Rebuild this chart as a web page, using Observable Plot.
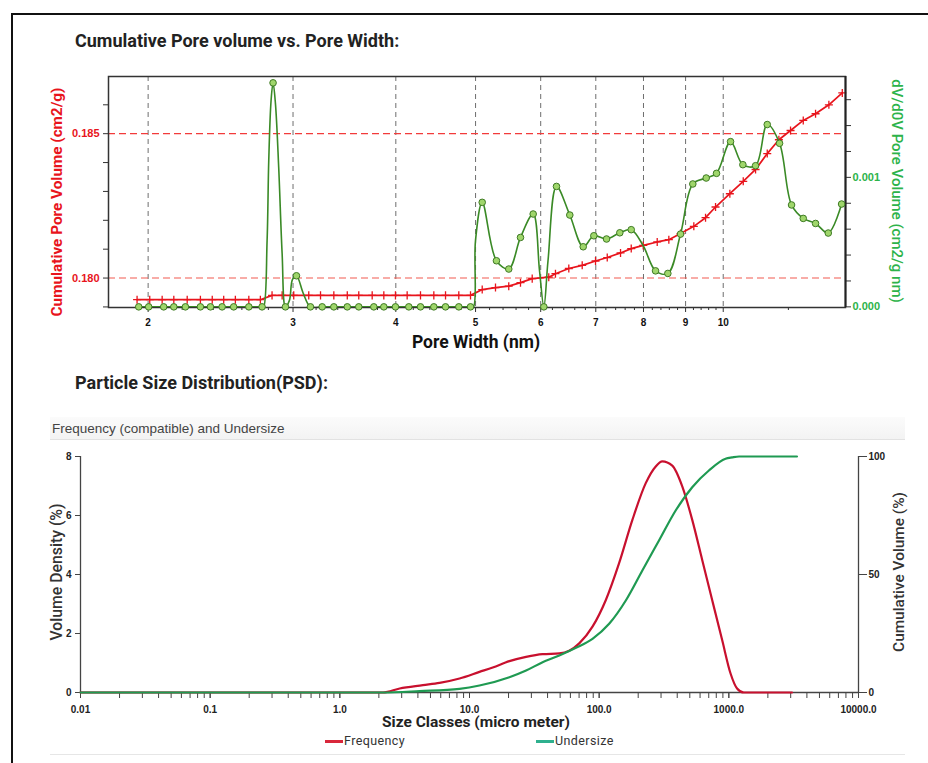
<!DOCTYPE html>
<html>
<head>
<meta charset="utf-8">
<script src="https://cdn.jsdelivr.net/npm/d3@7"></script>
<script src="https://cdn.jsdelivr.net/npm/@observablehq/plot@0.6"></script>
<style>
  html, body { margin: 0; padding: 0; background: #fff; }
  body { width: 928px; height: 763px; position: relative; overflow: hidden; font-family: Roboto, "Liberation Sans", sans-serif; }
  .abs { position: absolute; }
  .layer { position: absolute; left: 0; }
  .layer svg { display: block; background: transparent; max-width: none; }
  .border { position: absolute; left: 11px; top: 13px; width: 940px; height: 780px; border-left: 2px solid #111; border-top: 2px solid #111; }
  .title { position: absolute; left: 75px; font: bold 18px Roboto, sans-serif; color: #222; white-space: nowrap; }
  .rot { position: absolute; white-space: nowrap; transform: translate(-50%, -50%) rotate(-90deg); }
  .rotcw { position: absolute; white-space: nowrap; transform: translate(-50%, -50%) rotate(90deg); }
  .center { position: absolute; white-space: nowrap; transform: translate(-50%, -50%); }
  .header { position: absolute; left: 50px; top: 417px; width: 855px; height: 23px; background: linear-gradient(#fbfbfb, #f3f3f3); border-bottom: 1px solid #e2e2e2; font: 13.5px "Liberation Sans", Arial, sans-serif; color: #444; line-height: 23px; padding-left: 2px; box-sizing: border-box; }
  .legend { position: absolute; top: 733px; font: 12.5px Roboto, sans-serif; color: #333; letter-spacing: 0.4px; white-space: nowrap; }
  .legend span.sw { display: inline-block; width: 18px; height: 3px; vertical-align: middle; margin-right: 1px; }
</style>
</head>
<body>
<div class="border"></div>
<div class="title" style="top:30px">Cumulative Pore volume vs. Pore Width:</div>
<div class="title" style="top:372px">Particle Size Distribution(PSD):</div>

<div id="p1a" class="layer" style="top:0"></div>
<div id="p1b" class="layer" style="top:0"></div>

<div class="rot" style="left:57px; top:202px; font: bold 15.3px Roboto, sans-serif; color:#e8141c;">Cumulative Pore Volume (cm2/g)</div>
<div class="rotcw" style="left:897px; top:191px; font: 500 15px Roboto, sans-serif; color:#2db34a;">dV/d0V Pore Volume (cm2/g nm)</div>
<div class="center" style="left:476px; top:342px; font: bold 17.5px Roboto, sans-serif; color:#111;">Pore Width (nm)</div>

<div class="header">Frequency (compatible) and Undersize</div>

<div id="p2a" class="layer" style="top:400px"></div>
<div id="p2b" class="layer" style="top:400px"></div>

<div class="rot" style="left:56px; top:572px; font: 500 15.8px Roboto, sans-serif; color:#333;">Volume Density (%)</div>
<div class="rot" style="left:899px; top:572px; font: 500 15.4px Roboto, sans-serif; color:#333;">Cumulative Volume (%)</div>
<div class="center" style="left:476px; top:722px; font: bold 15.5px Roboto, sans-serif; color:#222;">Size Classes (micro meter)</div>

<div class="legend" style="left:325px"><span class="sw" style="background:#d9273b"></span>Frequency</div>
<div class="legend" style="left:536px"><span class="sw" style="background:#2fb08e"></span>Undersize</div>
<div class="abs" style="left:50px; top:754px; width:855px; height:1px; background:#e6e6e6"></div>

<script>
// ---------- Top chart: cumulative pore volume (left axis) ----------
const cumWidth = [1.939, 2.009, 2.080, 2.149, 2.231, 2.315, 2.393, 2.471, 2.553, 2.651, 2.738,
  2.829, 2.910, 3.006, 3.135, 3.240, 3.363, 3.492, 3.606, 3.744, 3.868, 3.996, 4.129, 4.286, 4.449, 4.597, 4.771, 4.930,
  5.094, 5.287, 5.487, 5.670, 5.859, 6.137, 6.253, 6.491, 6.739, 6.995, 7.228, 7.502, 7.730, 7.994, 8.313, 8.588, 8.874,
  9.210, 9.517, 9.787, 10.187, 10.576, 10.947, 11.311, 11.685, 12.073, 12.510, 12.948, 13.440, 13.954];
const cumVolume = [0.17925, 0.17925, 0.17925, 0.17925, 0.17925, 0.17925, 0.17925, 0.17925, 0.17925, 0.17925, 0.17925,
  0.17940, 0.17940, 0.17940, 0.17940, 0.17940, 0.17940, 0.17940, 0.17940, 0.17940, 0.17940, 0.17940, 0.17940, 0.17940, 0.17940, 0.17940, 0.17940, 0.17940,
  0.17960, 0.17967, 0.17972, 0.17984, 0.17998, 0.18003, 0.18015, 0.18033, 0.18044, 0.18059, 0.18071, 0.18087, 0.18102, 0.18113, 0.18125, 0.18133, 0.18154,
  0.18179, 0.18209, 0.18246, 0.18292, 0.18335, 0.18376, 0.18431, 0.18479, 0.18511, 0.18546, 0.18569, 0.18600, 0.18641];

// ---------- Top chart: dV/dD (right axis) ----------
const dvWidth = [1.948, 2.003, 2.089, 2.149, 2.220, 2.315, 2.381, 2.460, 2.541, 2.651, 2.751,
  2.763, 2.790, 2.803, 2.821, 2.837, 2.856, 2.882, 2.910, 2.937, 2.970, 2.995, 3.029, 3.089, 3.150,
  3.255, 3.363, 3.492, 3.606, 3.761, 3.868, 3.996, 4.148, 4.286, 4.449, 4.597, 4.771, 4.930,
  4.971, 4.999, 5.094, 5.301, 5.487, 5.670, 5.875, 5.980, 6.053, 6.124, 6.271, 6.509, 6.758, 6.962,
  7.214, 7.487, 7.730, 7.994, 8.274, 8.564, 8.874, 9.184, 9.535, 9.814, 10.207, 10.565, 10.947,
  11.311, 11.707, 12.107, 12.510, 12.948, 13.417, 13.927];
const dvValue = [0, 0, 0, 0, 0, 0, 0, 0, 0, 0, 0,
  0, 0.00051, 0.00113, 0.00159, 0.00173, 0.00157, 0.00108, 0.00041, 0, 0.00005, 0.00021, 0.00024, 0.00010, 0,
  0, 0, 0, 0, 0, 0, 0, 0, 0, 0, 0, 0, 0,
  0, 0.00051, 0.000807, 0.000356, 0.000292, 0.000536, 0.000717, 0.00028, 0, 0.000356, 0.000930, 0.000709, 0.000464, 0.000549,
  0.000524, 0.000572, 0.000596, 0.000472, 0.000278, 0.000258, 0.000562, 0.000949, 0.000995, 0.001031, 0.001276, 0.001098, 0.001090,
  0.001408, 0.001263, 0.000787, 0.000683, 0.000644, 0.000570, 0.000794];
const dvMarker = [1, 1, 1, 1, 1, 1, 1, 1, 1, 1, 1,
  0, 0, 0, 0, 1, 0, 0, 0, 1, 0, 0, 1, 0, 1,
  1, 1, 1, 1, 1, 1, 1, 1, 1, 1, 1, 1, 1,
  0, 0, 1, 1, 1, 1, 1, 0, 1, 0, 1, 1, 1, 1,
  1, 1, 1, 0, 1, 1, 1, 1, 1, 1, 1, 1, 1,
  1, 1, 1, 1, 1, 1, 1];

const poreTicks = [2, 3, 4, 5, 6, 7, 8, 9, 10];
const poreMinorTicks = [2.2, 2.4, 2.6, 2.8, 3.2, 3.4, 3.6, 3.8, 4.2, 4.4, 4.6, 4.8, 5.2, 5.4, 5.6, 5.8,
  6.2, 6.4, 6.6, 6.8, 7.2, 7.4, 7.6, 7.8, 8.2, 8.4, 8.6, 8.8, 9.2, 9.4, 9.6, 9.8, 12];
const cumTicks = [0.179, 0.180, 0.181, 0.182, 0.183, 0.184, 0.185, 0.186];
const cumTickLabels = ["", "0.180", "", "", "", "", "0.185", ""];
const dvTicks = [0, 0.0002, 0.0004, 0.0006, 0.0008, 0.001, 0.0012, 0.0014, 0.0016];
const dvTickLabels = ["0.000", "", "", "", "", "0.001", "", "", ""];
const poreDomain = [1.79, 14.08];

// ---------- Bottom chart: PSD ----------
const freqSize = [0.01, 0.1, 1, 2.153, 2.894, 4.373, 5.878, 8.38, 11.94, 15.11, 20.31, 27.31, 36.63, 49.24, 58.76,
  70.20, 88.83, 112.6, 142.5, 180.4, 228.7, 273.1, 306.9, 366.3, 437.3, 522.1, 623.3, 743.8, 888.3, 1031, 1158, 1305, 3069];
const frequency = [0, 0, 0, 0, 0.136, 0.248, 0.326, 0.475, 0.70, 0.849, 1.063, 1.209, 1.301, 1.324, 1.412,
  1.664, 2.231, 3.137, 4.383, 5.851, 7.097, 7.664, 7.834, 7.688, 6.985, 5.851, 4.493, 3.135, 1.776, 0.645, 0.136, 0, 0];
const underSize = [0.01, 0.1, 1, 2.153, 4.125, 8.38, 11.94, 20.31, 27.31, 36.63, 49.24, 66.21, 88.83, 119.4, 160.5,
  215.3, 289.4, 389.0, 522.1, 702.0, 943.2, 1060, 1200, 3353];
const undersize = [0, 0, 0, 0, 0.6, 1.57, 2.97, 6.48, 9.32, 12.84, 15.68, 18.94, 22.75, 29.11, 38.98,
  51.69, 64.41, 77.12, 87.0, 94.07, 99.03, 99.6, 100, 100];

const sizeTicks = [0.01, 0.1, 1, 10, 100, 1000, 10000];
const sizeTickLabels = ["0.01", "0.1", "1.0", "10.0", "100.0", "1000.0", "10000.0"];
const sizeMinorTicks = [];
[0.01, 0.1, 1, 10, 100, 1000].forEach(d => { for (let k = 1; k <= 9; k++) sizeMinorTicks.push(+(d * k).toPrecision(3)); });
sizeMinorTicks.push(10000);
const densTicks = [0, 2, 4, 6, 8];
const cumPctTicks = [0, 50, 100];

// tables built from the arrays
const cumData = cumWidth.map((w, i) => ({w, v: cumVolume[i]}));
const dvData = dvWidth.map((w, i) => ({w, v: dvValue[i], m: dvMarker[i]}));
const freqData = freqSize.map((s, i) => ({s, f: frequency[i]}));
const underData = underSize.map((s, i) => ({s, c: undersize[i]}));

const tickFont = {fontFamily: "'Liberation Sans', Arial, sans-serif", fontSize: 10, fontWeight: "bold"};
const topDims = {width: 928, height: 355, marginTop: 76, marginBottom: 48, marginLeft: 108, marginRight: 83};
const botDims = {width: 928, height: 363, marginTop: 56, marginBottom: 71, marginLeft: 80, marginRight: 70};
const svgStyle = {background: "transparent", overflow: "visible", fontFamily: "'Liberation Sans', Arial, sans-serif"};

const p1a = Plot.plot({
  ...topDims, style: svgStyle,
  x: {type: "log", domain: poreDomain},
  y: {domain: [0.17898, 0.18698]},
  marks: [
    Plot.ruleX(poreTicks, {stroke: "#4a4a4a", strokeDasharray: "5,4", strokeOpacity: 0.8}),
    Plot.ruleY([0.185], {stroke: "#f23b3b", strokeDasharray: "7,4", strokeWidth: 1.2}),
    Plot.ruleY([0.180], {stroke: "#f25a50", strokeDasharray: "7,4", strokeWidth: 1.1}),
    Plot.axisX(poreMinorTicks, {tickSize: 3, tickFormat: () => "", stroke: "#333", label: null}),
    Plot.axisX(poreTicks, {tickSize: 5, tickPadding: 6, tickFormat: d => String(d), stroke: "#333", fill: "#111", label: null, ...tickFont}),
    Plot.axisY(cumTicks, {anchor: "left", tickSize: 5, tickPadding: 4, tickFormat: d => cumTickLabels[cumTicks.indexOf(d)], stroke: "#333", fill: "#e8141c", label: null, ...tickFont, fontSize: 11}),
    Plot.frame({stroke: "#333", strokeWidth: 1.5}),
    Plot.line(cumData, {x: "w", y: "v", stroke: "#e8141c", strokeWidth: 1.7}),
    Plot.dot(cumData, {x: "w", y: "v", symbol: "plus", r: 2.7, stroke: "#e8141c", strokeWidth: 1.3, fill: "none"})
  ]
});
document.getElementById("p1a").append(p1a);

const p1b = Plot.plot({
  ...topDims, style: svgStyle,
  x: {type: "log", domain: poreDomain, axis: null},
  y: {domain: [-0.000005, 0.001779], axis: null},
  marks: [
    Plot.axisY(dvTicks, {anchor: "right", tickSize: 5, tickPadding: 2, tickFormat: d => dvTickLabels[dvTicks.indexOf(d)], stroke: "#333", fill: "#2db34a", label: null, ...tickFont, fontSize: 11}),
    Plot.ruleX([poreDomain[1]], {stroke: "#222", strokeWidth: 2}),
    Plot.line(dvData, {x: "w", y: "v", curve: "catmull-rom", stroke: "#3a8a26", strokeWidth: 1.6, clip: true}),
    Plot.dot(dvData.filter(d => d.m), {x: "w", y: "v", r: 3.3, fill: "#9fd66b", stroke: "#3f7a25", strokeWidth: 1})
  ]
});
document.getElementById("p1b").append(p1b);

const p2a = Plot.plot({
  ...botDims, style: svgStyle,
  x: {type: "log", domain: [0.01, 10000]},
  y: {domain: [0, 8]},
  marks: [
    Plot.axisX(sizeMinorTicks, {tickSize: 6, tickFormat: () => "", stroke: "#444", label: null}),
    Plot.axisX(sizeTicks, {tickSize: 6, tickPadding: 7, tickFormat: d => sizeTickLabels[sizeTicks.indexOf(d)], stroke: "#444", fill: "#222", label: null, ...tickFont}),
    Plot.axisY(densTicks, {anchor: "left", tickSize: 5, tickPadding: 4, tickFormat: d => String(d), stroke: "#444", fill: "#222", label: null, ...tickFont}),
    Plot.ruleX([0.01], {stroke: "#444", strokeWidth: 1.3}),
    Plot.ruleY([0], {stroke: "#444", strokeWidth: 1.3}),
    Plot.line(freqData, {x: "s", y: "f", curve: "monotone-x", stroke: "#c8102e", strokeWidth: 2.2})
  ]
});
document.getElementById("p2a").append(p2a);

const p2b = Plot.plot({
  ...botDims, style: svgStyle,
  x: {type: "log", domain: [0.01, 10000], axis: null},
  y: {domain: [0, 100], axis: null},
  marks: [
    Plot.axisY(cumPctTicks, {anchor: "right", tickSize: 8, tickPadding: 2, tickFormat: d => String(d), stroke: "#444", fill: "#222", label: null, ...tickFont}),
    Plot.ruleX([10000], {stroke: "#444", strokeWidth: 1.3}),
    Plot.line(underData, {x: "s", y: "c", curve: "monotone-x", stroke: "#1f9a52", strokeWidth: 2.2})
  ]
});
document.getElementById("p2b").append(p2b);
</script>
</body>
</html>
